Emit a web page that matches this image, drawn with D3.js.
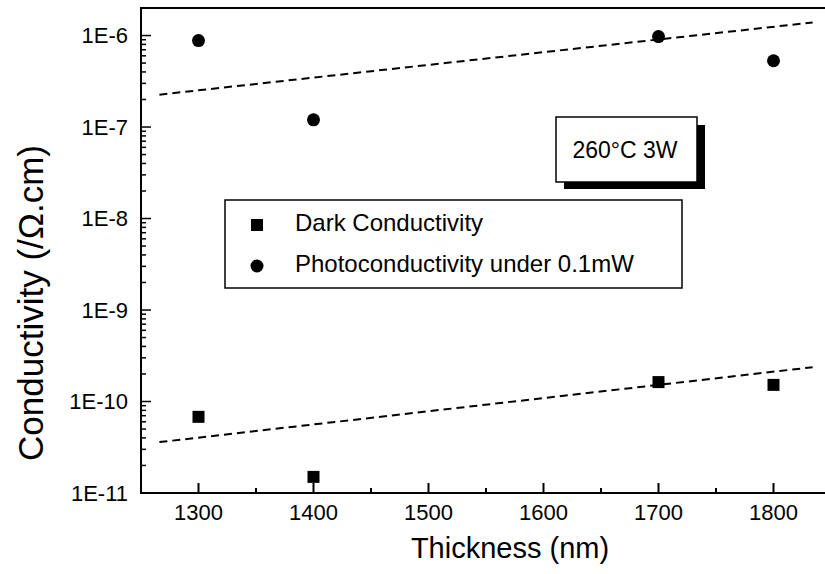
<!DOCTYPE html>
<html>
<head>
<meta charset="utf-8">
<script src="https://cdn.jsdelivr.net/npm/d3@7"></script>
<style>
  body { margin: 0; background: #fff; }
  text { font-family: "Liberation Sans", Arial, sans-serif; fill: #000; }
</style>
</head>
<body>
<div id="chart"></div>
<script>
// thickness (nm) of the samples
const thickness = [1300, 1400, 1700, 1800];
// conductivity values (/Ohm.cm)
const darkConductivity = [6.8e-11, 1.5e-11, 1.63e-10, 1.52e-10];
const photoConductivity = [8.8e-7, 1.2e-7, 9.75e-7, 5.3e-7];
// fitted trend lines, end points
const fitThickness = [1266, 1834];
const darkFit = [3.6e-11, 2.37e-10];
const photoFit = [2.26e-7, 1.39e-6];
// ticks
const xTicks = [1300, 1400, 1500, 1600, 1700, 1800];
const yTicks = [1e-11, 1e-10, 1e-9, 1e-8, 1e-7, 1e-6];
const yTickLabels = ["1E-11", "1E-10", "1E-9", "1E-8", "1E-7", "1E-6"];

let width = 825, height = 574;

let svg = d3.select("#chart")
    .append("svg")
    .attr("width", width)
    .attr("height", height);

let x = d3.scaleLinear().domain([1250, 1850]).range([141, 831]);
let y = d3.scaleLog().domain([1e-11, 2e-6]).range([493, 8]);

// frame
svg.append("rect")
    .attr("x", x(1250))
    .attr("y", y(2e-6))
    .attr("width", x(1850) - x(1250))
    .attr("height", y(1e-11) - y(2e-6))
    .attr("fill", "none")
    .attr("stroke", "#000")
    .attr("stroke-width", 2);

// x ticks (inward), major and minor
let xMinor = d3.range(1250, 1851, 50).filter(d => !xTicks.includes(d));
svg.append("g")
    .selectAll("line")
    .data(xTicks.map(d => ({ v: d, len: 10 })).concat(xMinor.map(d => ({ v: d, len: 5 }))))
    .enter()
    .append("line")
    .attr("x1", d => x(d.v))
    .attr("x2", d => x(d.v))
    .attr("y1", y(1e-11))
    .attr("y2", d => y(1e-11) - d.len)
    .attr("stroke", "#000")
    .attr("stroke-width", 2);

svg.append("g")
    .selectAll("text")
    .data(xTicks)
    .enter()
    .append("text")
    .attr("x", d => x(d))
    .attr("y", 520)
    .attr("text-anchor", "middle")
    .style("font-size", "22px")
    .text(d => d);

// y ticks (inward), decades and minor
let yMinor = [];
for (let e = -11; e <= -6; e++) {
    for (let m = 2; m <= 9; m++) {
        let v = m * Math.pow(10, e);
        if (v <= 2e-6) yMinor.push(v);
    }
}
svg.append("g")
    .selectAll("line")
    .data(yTicks.map(d => ({ v: d, len: 10 })).concat(yMinor.map(d => ({ v: d, len: 5 }))))
    .enter()
    .append("line")
    .attr("x1", x(1250))
    .attr("x2", d => x(1250) + d.len)
    .attr("y1", d => y(d.v))
    .attr("y2", d => y(d.v))
    .attr("stroke", "#000")
    .attr("stroke-width", 1.5);

svg.append("g")
    .selectAll("text")
    .data(yTicks)
    .enter()
    .append("text")
    .attr("x", 128)
    .attr("y", d => y(d))
    .attr("dy", "0.36em")
    .attr("text-anchor", "end")
    .style("font-size", "22px")
    .text((d, i) => yTickLabels[i]);

// axis titles
svg.append("text")
    .attr("x", 510)
    .attr("y", 558)
    .attr("text-anchor", "middle")
    .style("font-size", "29px")
    .text("Thickness (nm)");

svg.append("text")
    .attr("transform", "translate(43," + 303 + ") rotate(-90)")
    .attr("text-anchor", "middle")
    .style("font-size", "35px")
    .text("Conductivity (/\u03A9.cm)");

// fit lines
let line = d3.line().x(d => x(d[0])).y(d => y(d[1]));
[darkFit, photoFit].forEach(f => {
    svg.append("path")
        .datum(fitThickness.map((t, i) => [t, f[i]]))
        .attr("d", line)
        .attr("fill", "none")
        .attr("stroke", "#000")
        .attr("stroke-width", 2)
        .attr("stroke-dasharray", "8,5");
});

// markers
svg.append("g")
    .selectAll("rect")
    .data(thickness.map((t, i) => [t, darkConductivity[i]]))
    .enter()
    .append("rect")
    .attr("x", d => x(d[0]) - 6)
    .attr("y", d => y(d[1]) - 6)
    .attr("width", 12)
    .attr("height", 12)
    .attr("fill", "#000");

svg.append("g")
    .selectAll("circle")
    .data(thickness.map((t, i) => [t, photoConductivity[i]]))
    .enter()
    .append("circle")
    .attr("cx", d => x(d[0]))
    .attr("cy", d => y(d[1]))
    .attr("r", 6.5)
    .attr("fill", "#000");

// legend
let legend = svg.append("g");
legend.append("rect")
    .attr("x", 225).attr("y", 200)
    .attr("width", 457).attr("height", 88)
    .attr("fill", "#fff")
    .attr("stroke", "#000")
    .attr("stroke-width", 1.5);
legend.append("rect")
    .attr("x", 251).attr("y", 219)
    .attr("width", 12).attr("height", 12)
    .attr("fill", "#000");
legend.append("circle")
    .attr("cx", 257).attr("cy", 266).attr("r", 6.5)
    .attr("fill", "#000");
legend.append("text")
    .attr("x", 295).attr("y", 231)
    .style("font-size", "24px")
    .text("Dark Conductivity");
legend.append("text")
    .attr("x", 295).attr("y", 272)
    .style("font-size", "24px")
    .text("Photoconductivity under 0.1mW");

// annotation box with shadow
let note = svg.append("g");
note.append("rect")
    .attr("x", 564).attr("y", 125)
    .attr("width", 141).attr("height", 64)
    .attr("fill", "#000");
note.append("rect")
    .attr("x", 556).attr("y", 117)
    .attr("width", 141).attr("height", 65)
    .attr("fill", "#fff")
    .attr("stroke", "#000")
    .attr("stroke-width", 1.5);
note.append("text")
    .attr("x", 625).attr("y", 158)
    .attr("text-anchor", "middle")
    .style("font-size", "23px")
    .text("260\u00B0C 3W");
</script>
</body>
</html>
